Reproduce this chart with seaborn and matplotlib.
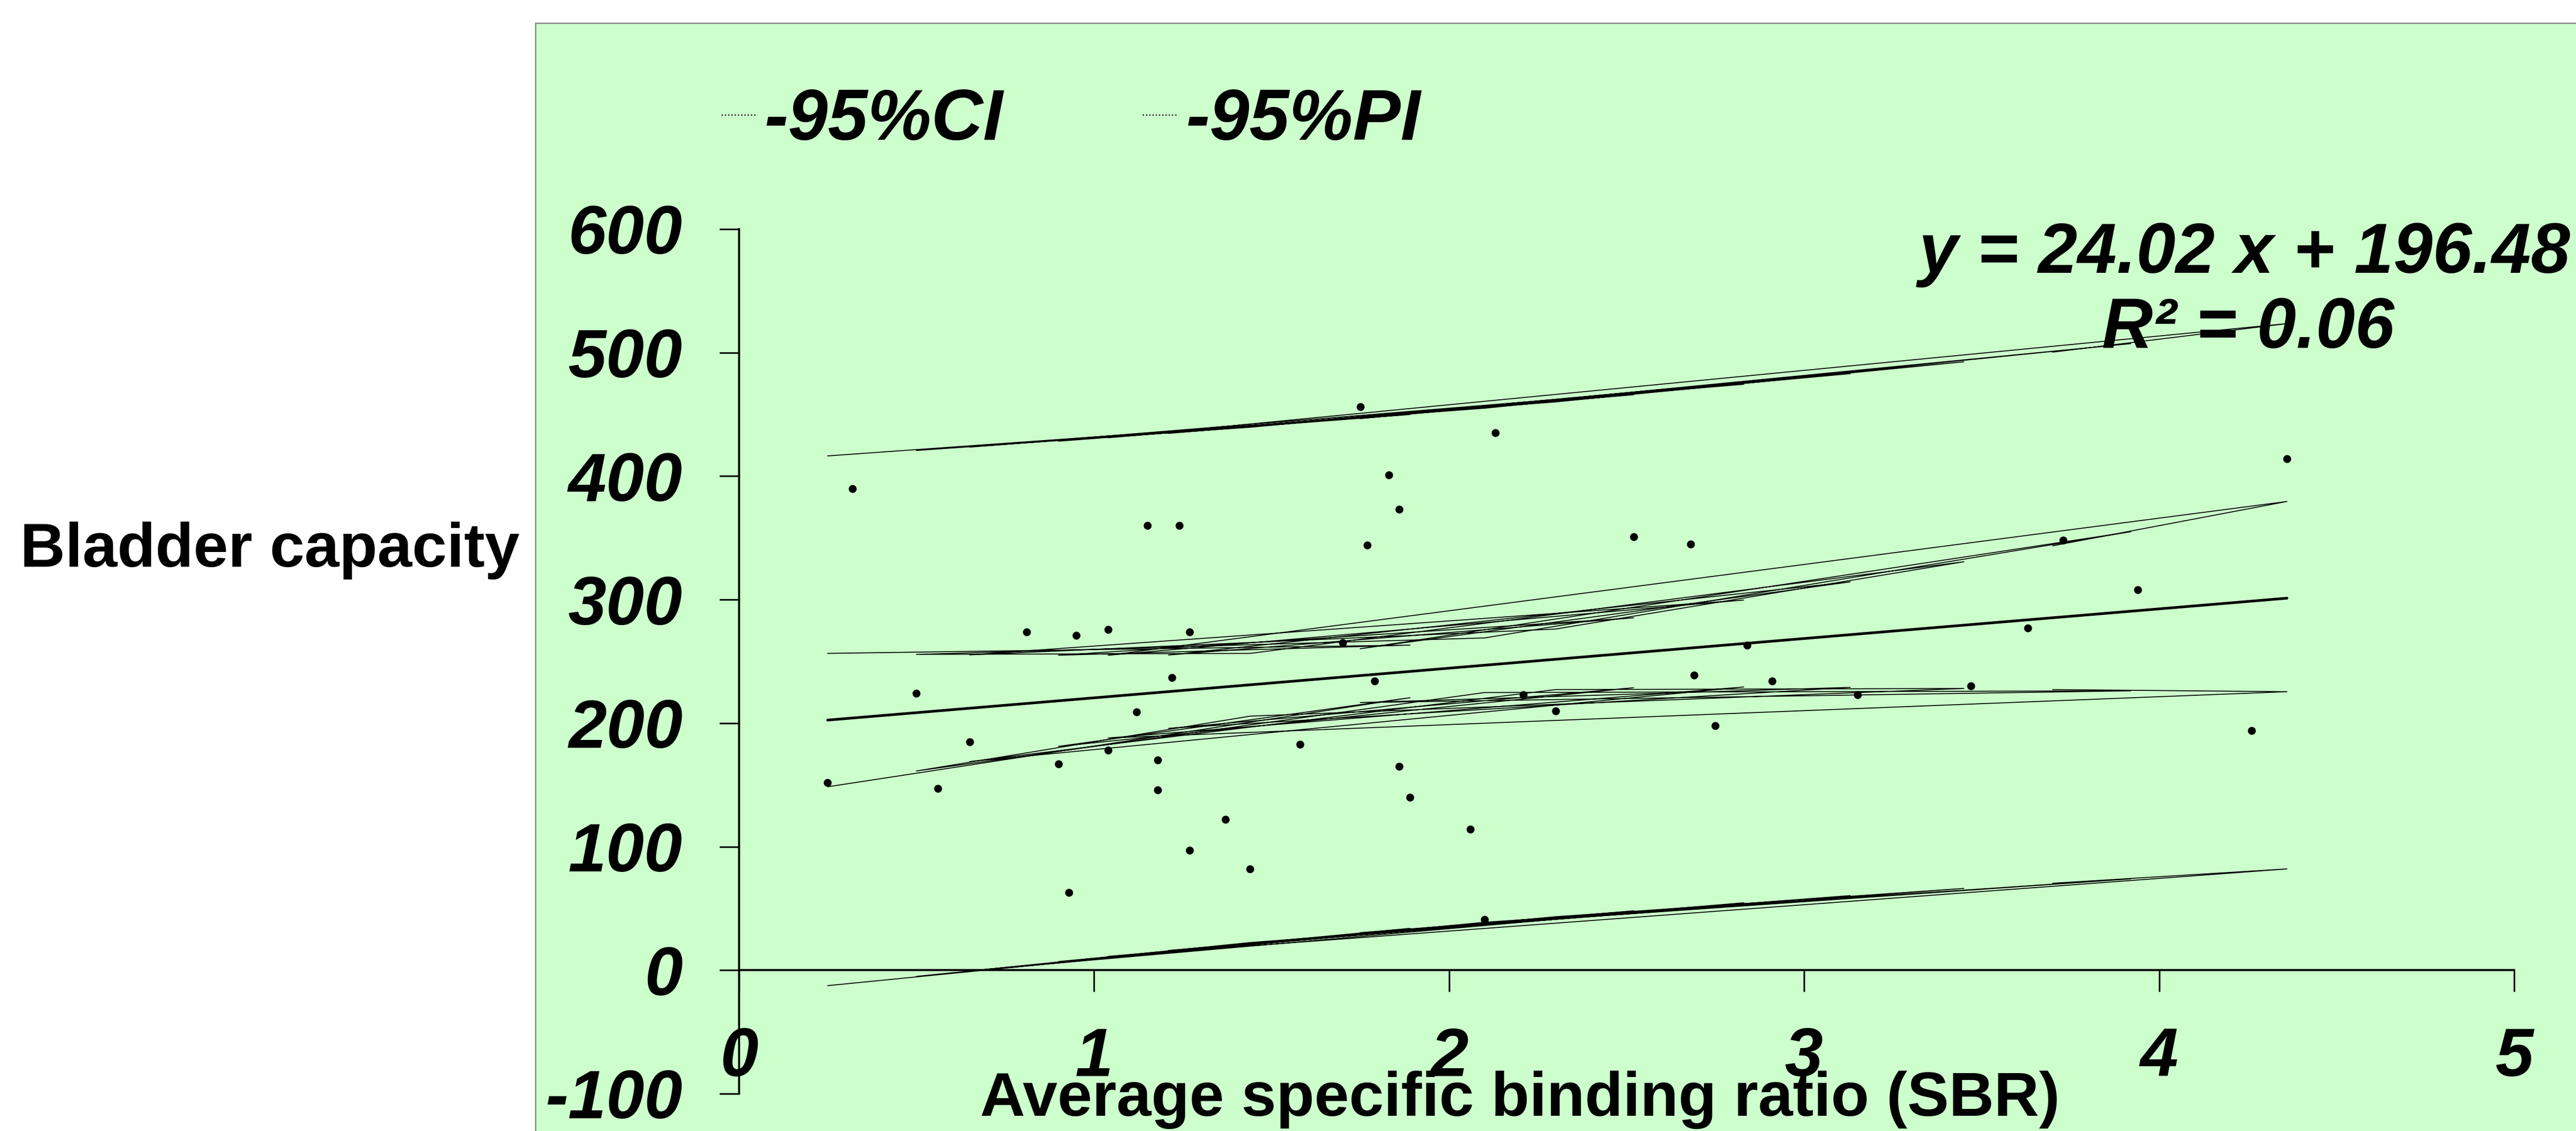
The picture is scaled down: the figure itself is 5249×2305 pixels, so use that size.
import numpy as np
import pandas as pd
import seaborn as sns
import matplotlib.pyplot as plt
from matplotlib.patches import Rectangle
from matplotlib.lines import Line2D
from matplotlib.font_manager import FontProperties


# scatter values (SBR, bladder capacity)
sbr = [0.25, 0.32, 0.50, 0.56, 0.65, 0.81, 0.90, 0.93, 0.95, 1.04, 1.04, 1.12, 1.15,
       1.18, 1.18, 1.22, 1.24, 1.27, 1.27, 1.37, 1.44, 1.58, 1.70, 1.75, 1.77, 1.79,
       1.83, 1.86, 1.86, 1.89, 2.06, 2.10, 2.13, 2.21, 2.30, 2.52, 2.68, 2.69, 2.75,
       2.84, 2.91, 3.15, 3.47, 3.63, 3.73, 3.94, 4.26, 4.36]
capacity = [152, 390, 224, 147, 185, 274, 167, 63, 271, 276, 178, 209, 360,
            170, 146, 237, 360, 274, 97, 122, 82, 183, 265, 456, 344, 234,
            401, 373, 165, 140, 114, 41, 435, 223, 210, 351, 345, 239, 198,
            263, 234, 223, 230, 277, 348, 308, 194, 414]

# trend line end points
trend_x = [0.25, 4.36]
trend_y = [202.5, 301.2]

# confidence / prediction band values, in the (unsorted) order Excel joined them
band_x = [0.25, 1.89, 0.90, 2.52, 1.21, 3.13, 1.75, 3.92, 2.10, 0.50, 1.44, 3.45,
          2.30, 0.65, 2.83, 1.04, 4.36, 3.70]
ci_upper = [256.5, 263.2, 255.0, 285.3, 255.2, 314.4, 260.3, 355.0, 269.0, 255.7,
            256.5, 330.7, 276.2, 255.3, 299.7, 255.0, 379.5, 343.6]
ci_lower = [148.5, 220.6, 181.2, 228.7, 195.8, 229.0, 216.7, 226.2, 224.8, 161.3,
            205.7, 228.1, 227.2, 168.9, 229.3, 188.0, 225.5, 227.2]
pi_upper = [416.4, 449.9, 428.3, 465.9, 434.6, 483.0, 446.6, 507.3, 455.0, 420.8,
            439.6, 492.6, 460.1, 423.5, 474.4, 431.1, 523.5, 500.4]
pi_lower = [-12.5, 33.9, 7.0, 48.1, 16.0, 60.4, 30.4, 73.9, 38.8, -5.0,
            22.4, 66.2, 43.3, -0.5, 54.6, 11.2, 82.0, 70.4]

x_ticks = [0, 1, 2, 3, 4, 5]
y_ticks = [-100, 0, 100, 200, 300, 400, 500, 600]
legend_labels = ['-95%CI', '-95%PI']

df_pts = pd.DataFrame({'sbr': sbr, 'capacity': capacity})
df_band = pd.DataFrame({'x': band_x, 'ci_up': ci_upper, 'ci_lo': ci_lower,
                        'pi_up': pi_upper, 'pi_lo': pi_lower})

sns.set_style('ticks')
plt.rcParams['font.family'] = ['Liberation Sans', 'DejaVu Sans']
plt.rcParams['text.color'] = 'black'
plt.rcParams['axes.labelcolor'] = 'black'
plt.rcParams['xtick.color'] = 'black'
plt.rcParams['ytick.color'] = 'black'
plt.rcParams['axes.unicode_minus'] = False

W, H = 5249, 2305
fig = plt.figure(figsize=(W / 300, H / 300), dpi=300)

# green chart area
fig.patches.append(Rectangle((1091 / W, -0.01), 1.0, 1 - 47 / H + 0.01,
                             transform=fig.transFigure, facecolor='#CCFFCC',
                             edgecolor='#808080', lw=0.6, zorder=-5))

ax = fig.add_axes([1505.6 / W, 1 - 2229 / H, 3617.4 / W, 1762 / H])
ax.set_facecolor('none')
ax.set_zorder(2)

for col in ['pi_up', 'ci_up', 'ci_lo', 'pi_lo']:
    sns.lineplot(data=df_band, x='x', y=col, sort=False, estimator=None,
                 color='black', lw=0.45, ax=ax)

sns.lineplot(x=trend_x, y=trend_y, color='black', lw=1.3, ax=ax)
sns.scatterplot(data=df_pts, x='sbr', y='capacity', color='black', s=15,
                edgecolor='black', linewidth=0, ax=ax, zorder=5)

ax.set_xlim(0, 5)
ax.set_ylim(-100, 600)
ax.set_xticks(x_ticks)
ax.set_yticks(y_ticks)
ax.spines['top'].set_visible(False)
ax.spines['right'].set_visible(False)
ax.spines['bottom'].set_position(('data', 0))
for side in ['bottom', 'left']:
    ax.spines[side].set_linewidth(1.0)
    ax.spines[side].set_color('black')
ax.tick_params(axis='x', length=10.5, width=0.8, pad=17, labelsize=33.5, color='black')
ax.tick_params(axis='y', length=9.6, width=0.8, pad=18, labelsize=33.5, color='black')
for lbl in ax.get_xticklabels() + ax.get_yticklabels():
    lbl.set_fontweight('bold')
    lbl.set_fontstyle('italic')

ax.set_xlabel('Average specific binding ratio (SBR)', fontsize=30.5, fontweight='bold', va='center')
ax.xaxis.set_label_coords(0.44, -0.007)
ax.set_ylabel('Bladder capacity', fontsize=30.5, fontweight='bold', rotation=0,
              ha='center', va='center')
ax.yaxis.set_label_coords(-0.2642, 0.628)

# regression equation
fig.text(4574 / W, 1 - 556 / H, 'y = 24.02 x + 196.48', ha='center', va='baseline',
         fontsize=34.5, fontweight='bold', fontstyle='italic')
fig.text(4581 / W, 1 - 709 / H, 'R² = 0.06', ha='center', va='baseline',
         fontsize=34.5, fontweight='bold', fontstyle='italic')

handles = [Line2D([], [], color='black', lw=0.6, ls=':') for _ in legend_labels]
fig.legend(handles, legend_labels, loc='center left', bbox_to_anchor=(1470 / W, 0.893),
           ncol=2, frameon=False, handlelength=0.5, handletextpad=0.1,
           columnspacing=1.95, borderpad=0, borderaxespad=0,
           prop=FontProperties(family='Liberation Sans', weight='bold', style='italic', size=35))

fig.savefig('out.png', dpi=300)
